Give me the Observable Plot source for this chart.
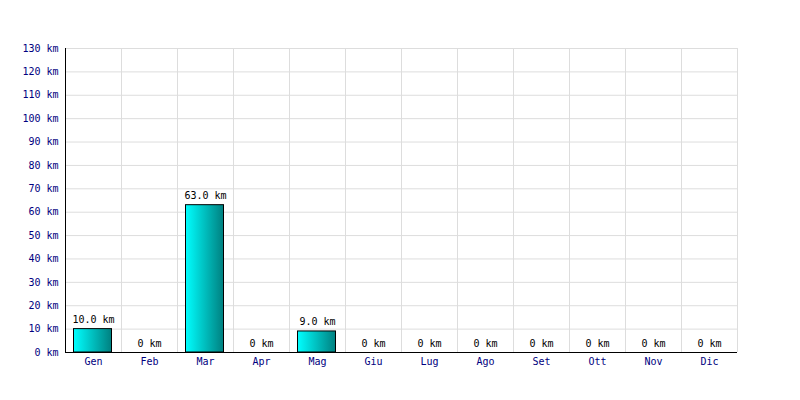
<!DOCTYPE html>
<html>
<head>
<meta charset="utf-8">
<script src="https://cdn.jsdelivr.net/npm/d3@7"></script>
<script src="https://cdn.jsdelivr.net/npm/@observablehq/plot@0.6"></script>
<style>
  html, body { margin: 0; padding: 0; background: #fff; }
  #chart svg { display: block; }
</style>
</head>
<body>
<div id="chart"></div>
<script>
const months = ["Gen","Feb","Mar","Apr","Mag","Giu","Lug","Ago","Set","Ott","Nov","Dic"];
const km = [10, 0, 63, 0, 9, 0, 0, 0, 0, 0, 0, 0];
const yTicks = [0,10,20,30,40,50,60,70,80,90,100,110,120,130];

const data = months.map((m, i) => ({month: m, km: km[i]}));

function gradientDefs() {
  const ns = "http://www.w3.org/2000/svg";
  const defs = document.createElementNS(ns, "defs");
  const lg = document.createElementNS(ns, "linearGradient");
  lg.setAttribute("id", "barGrad");
  lg.setAttribute("x1", "0"); lg.setAttribute("x2", "1");
  lg.setAttribute("y1", "0"); lg.setAttribute("y2", "0");
  [["0%", "#00ffff"], ["100%", "#008080"]].forEach(([o, c]) => {
    const s = document.createElementNS(ns, "stop");
    s.setAttribute("offset", o);
    s.setAttribute("stop-color", c);
    lg.appendChild(s);
  });
  defs.appendChild(lg);
  return defs;
}

const chart = Plot.plot({
  width: 800,
  height: 400,
  marginLeft: 65,
  marginRight: 63,
  marginTop: 48,
  marginBottom: 48,
  style: {fontFamily: "'DejaVu Sans Mono', monospace", fontSize: "10px", background: "#fff"},
  x: {domain: months, padding: 0, label: null},
  y: {domain: [0, 130], label: null},
  marks: [
    gradientDefs,
    Plot.ruleX(months, {x: d => d, y1: 0, y2: 130, stroke: "#dddddd", dx: -28}),
    Plot.ruleX([months[months.length - 1]], {y1: 0, y2: 130, stroke: "#dddddd", dx: 28}),
    Plot.gridY(yTicks, {stroke: "#dddddd", strokeOpacity: 1}),
    Plot.barY(data, {x: "month", y: "km", fill: "url(#barGrad)", stroke: "black", strokeWidth: 1, insetLeft: 8.5, insetRight: 9.5}),
    Plot.text(data, {x: "month", y: "km", text: d => d.km > 0 ? d.km.toFixed(1) + " km" : "0 km", lineAnchor: "bottom", dy: -6, fill: "black", fontSize: 10}),
    Plot.axisY(yTicks, {tickSize: 0, tickPadding: 7, tickFormat: d => d + " km", fill: "#000080", label: null}),
    Plot.axisX({tickSize: 0, tickPadding: 5, fill: "#000080", label: null}),
    Plot.ruleY([0], {stroke: "black"}),
    Plot.ruleX([months[0]], {y1: 0, y2: 130, stroke: "black", dx: -28})
  ]
});
document.getElementById("chart").appendChild(chart);
</script>
</body>
</html>
